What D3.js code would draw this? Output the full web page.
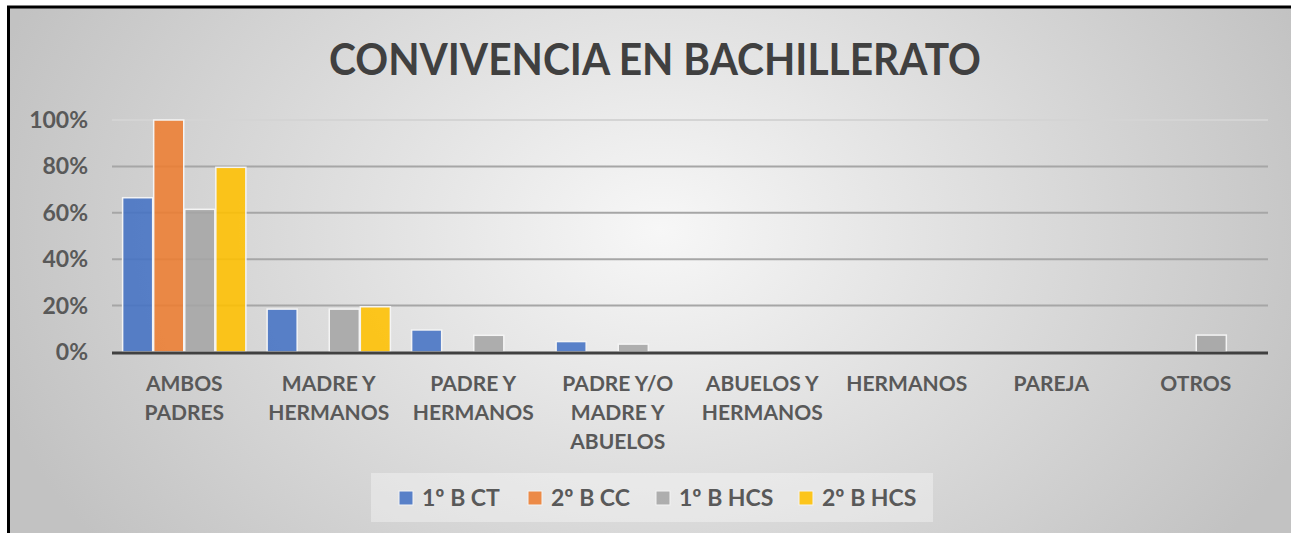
<!DOCTYPE html>
<html>
<head>
<meta charset="utf-8">
<script src="https://cdn.jsdelivr.net/npm/d3@7"></script>
<style>
  body { margin: 0; background: #fff; }
  svg { display: block; font-family: Lato, "Open Sans", sans-serif; }
</style>
</head>
<body>
<svg id="chart" width="1291" height="533"></svg>
<script>
const categories = [
    ['AMBOS', 'PADRES'],
    ['MADRE Y', 'HERMANOS'],
    ['PADRE Y', 'HERMANOS'],
    ['PADRE Y/O', 'MADRE Y', 'ABUELOS'],
    ['ABUELOS Y', 'HERMANOS'],
    ['HERMANOS'],
    ['PAREJA'],
    ['OTROS']
];
const seriesNames = ['1º B CT', '2º B CC', '1º B HCS', '2º B HCS'];
const serie1BCT  = [0.665, 0.185, 0.095, 0.045, 0, 0, 0, 0];
const serie2BCC  = [1.00, 0.00, 0.00, 0.00, 0, 0, 0, 0];
const serie1BHCS = [0.615, 0.185, 0.072, 0.034, 0, 0, 0, 0.073];
const serie2BHCS = [0.796, 0.195, 0.00, 0.00, 0, 0, 0, 0];
const yTicks = [0, 0.2, 0.4, 0.6, 0.8, 1.0];
const colors = ['#4472C4', '#ED7D31', '#A5A5A5', '#FFC000'];

const allSeries = [serie1BCT, serie2BCC, serie1BHCS, serie2BHCS];
const svg = d3.select('#chart');

// background
const defs = svg.append('defs');
const grad = defs.append('radialGradient')
    .attr('id', 'bg')
    .attr('gradientUnits', 'userSpaceOnUse')
    .attr('cx', 660).attr('cy', 230).attr('r', 700)
    .attr('gradientTransform', 'translate(660,230) scale(1,0.75) translate(-660,-230)');
grad.append('stop').attr('offset', '0%').attr('stop-color', '#f7f7f7');
grad.append('stop').attr('offset', '100%').attr('stop-color', '#c2c2c2');

svg.append('rect').attr('x', 9).attr('y', 7).attr('width', 1282).attr('height', 526)
    .attr('fill', 'url(#bg)');
svg.append('line').attr('x1', 8.5).attr('x2', 8.5).attr('y1', 6).attr('y2', 533)
    .attr('stroke', '#000').attr('stroke-width', 3);
svg.append('line').attr('x1', 7).attr('x2', 1291).attr('y1', 7).attr('y2', 7)
    .attr('stroke', '#000').attr('stroke-width', 3);

svg.append('text')
    .attr('x', 655).attr('y', 75)
    .attr('text-anchor', 'middle')
    .attr('font-size', 44).attr('font-weight', 'bold')
    .attr('fill', '#404040')
    .attr('textLength', 652).attr('lengthAdjust', 'spacingAndGlyphs')
    .text('CONVIVENCIA EN BACHILLERATO');

const x = d3.scaleBand().domain(d3.range(categories.length)).range([112, 1268])
    .paddingInner(0.14).paddingOuter(0.07);
const xs = d3.scaleBand().domain(d3.range(allSeries.length)).range([0, x.bandwidth()]);
const y = d3.scaleLinear().domain([0, 1]).range([352, 120]);

// gridlines
svg.append('g').selectAll('line').data(yTicks.filter(t => t > 0))
    .join('line')
    .attr('x1', 112).attr('x2', 1268)
    .attr('y1', d => y(d)).attr('y2', d => y(d))
    .attr('stroke', d => d === 1 ? '#d4d4d4' : '#a6a6a6')
    .attr('stroke-width', 2);

// y labels
svg.append('g').selectAll('text').data(yTicks)
    .join('text')
    .attr('x', 88).attr('y', d => y(d) + 8)
    .attr('text-anchor', 'end')
    .attr('font-size', 23).attr('font-weight', 'bold')
    .attr('fill', '#595959')
    .text(d => d3.format('.0%')(d));

// bars
allSeries.forEach((vals, s) => {
    const pts = vals.map((v, i) => ({v, i})).filter(d => d.v > 0);
    svg.append('g').selectAll('rect').data(pts)
        .join('rect')
        .attr('x', d => x(d.i) + xs(s) + 0.5)
        .attr('y', d => y(d.v))
        .attr('width', xs.bandwidth() - 1)
        .attr('height', d => y(0) - y(d.v))
        .attr('fill', colors[s])
        .attr('fill-opacity', 0.88)
        .attr('stroke', '#f4f4f4')
        .attr('stroke-width', 1.5);
});

// axis line
svg.append('line').attr('x1', 112).attr('x2', 1268)
    .attr('y1', y(0) + 1).attr('y2', y(0) + 1)
    .attr('stroke', '#404040').attr('stroke-width', 3);

// category labels
const catG = svg.append('g').selectAll('text').data(categories)
    .join('text')
    .attr('text-anchor', 'middle')
    .attr('font-size', 21).attr('font-weight', 'bold')
    .attr('fill', '#595959');
catG.selectAll('tspan').data((d, i) => d.map(l => ({l, i})))
    .join('tspan')
    .attr('x', d => x(d.i) + x.bandwidth() / 2)
    .attr('y', (d, j) => 391 + j * 29)
    .text(d => d.l);

// legend
svg.append('rect').attr('x', 371).attr('y', 473).attr('width', 562).attr('height', 49)
    .attr('fill', '#ffffff').attr('fill-opacity', 0.35);
const legX = [399, 528, 656, 799];
const leg = svg.append('g').selectAll('g').data(seriesNames)
    .join('g')
    .attr('transform', (d, i) => `translate(${legX[i]},0)`);
leg.append('rect').attr('x', 0).attr('y', 491).attr('width', 14).attr('height', 14)
    .attr('fill', (d, i) => colors[i]).attr('fill-opacity', 0.88)
    .attr('stroke', '#f4f4f4').attr('stroke-width', 1);
leg.append('text').attr('x', 23).attr('y', 506)
    .attr('font-size', 23).attr('font-weight', 'bold')
    .attr('fill', '#595959')
    .text(d => d);
</script>
</body>
</html>
